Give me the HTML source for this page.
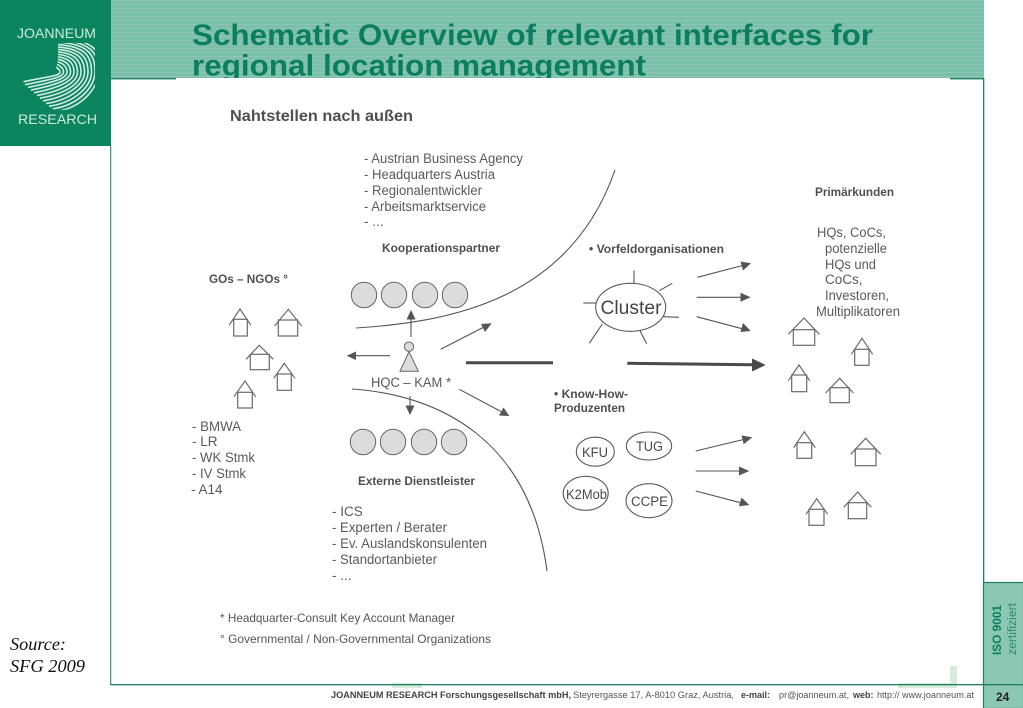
<!DOCTYPE html>
<html>
<head>
<meta charset="utf-8">
<style>
html,body{margin:0;padding:0;width:1023px;height:708px;overflow:hidden;background:#fff}
svg{display:block}
text{font-family:"Liberation Sans",sans-serif}
.t{font-size:13.5px;fill:#5a5a5a}
.b{font-size:11.5px;font-weight:bold;fill:#4f4f4f}
.h{fill:none;stroke:#6a6a6a;stroke-width:1.2}
.l{fill:none;stroke:#555;stroke-width:1.1}
.a{fill:#555}
.c{fill:#dcdcdc;stroke:#666;stroke-width:1}
.e{fill:#fff;stroke:#5a5a5a;stroke-width:1.1}
</style>
</head>
<body>
<svg width="1023" height="708" viewBox="0 0 1023 708" xmlns="http://www.w3.org/2000/svg">
<defs>
<pattern id="st" width="4" height="4" patternUnits="userSpaceOnUse">
<rect width="4" height="4" fill="#7dc0aa"/><rect width="4" height="1" fill="#8ac6b3"/>
</pattern>
<filter id="bl" x="-2%" y="-2%" width="104%" height="104%"><feGaussianBlur stdDeviation="0.35"/></filter>
<clipPath id="jc"><path d="M58 43H95V85C95 100 78 110 62 110C42 110 28 95 21 76L52 72C57 70 58 62 58 55Z"/></clipPath>
</defs>

<rect x="111" y="0" width="873" height="78" fill="url(#st)"/>
<text x="192" y="45" font-size="30" font-weight="bold" fill="#0b7f5c" textLength="681" lengthAdjust="spacingAndGlyphs">Schematic Overview of relevant interfaces for</text>
<text x="192" y="75.5" font-size="30" font-weight="bold" fill="#0b7f5c" textLength="454" lengthAdjust="spacingAndGlyphs">regional location management</text>
<rect x="176" y="78" width="774" height="12" fill="#fff"/>
<rect x="111" y="78" width="65" height="1.4" fill="#1f7d62"/>
<rect x="950" y="78" width="34" height="1.4" fill="#1f7d62"/>

<rect x="983" y="78" width="1.3" height="606" fill="#1f7d62"/>
<rect x="110" y="146" width="1.3" height="539" fill="#4f9b84"/>

<rect x="950" y="666" width="7" height="21" fill="#d4ecd9"/>
<rect x="898" y="683" width="59" height="5" fill="#d4ecd9"/>
<rect x="392" y="683" width="30" height="5" fill="#d4ecd9"/>
<rect x="110" y="684" width="874" height="1.3" fill="#1f7d62"/>

<!-- logo -->
<rect x="0" y="0" width="111" height="146" fill="#0b8560"/>
<text x="17" y="38" font-size="14" fill="#cfe8de" textLength="79" lengthAdjust="spacingAndGlyphs">JOANNEUM</text>
<text x="18" y="124" font-size="14" fill="#cfe8de" textLength="79" lengthAdjust="spacingAndGlyphs">RESEARCH</text>
<g fill="none" stroke="#d4ebe2" stroke-width="1.6" clip-path="url(#jc)">
<path d="M54 66C56 67 60 69 60 72C60 76 50 76 22 82"/>
<path d="M54 63.6C59.5 64.6 63.5 68 63.5 72C63.5 77 53.5 79 25 84.7"/>
<path d="M54 61.2C63 62.2 67 66.6 67 72C67 78 57 81.5 28 87.4"/>
<path d="M54 58.8C66.5 59.8 70.5 65.4 70.5 72C70.5 79 60.5 84 31 90.1"/>
<path d="M54 56.4C70 57.4 74 64 74 72C74 80 63 87 34 92.8"/>
<path d="M54 54C73.5 55 77.5 63 77.5 72C77.5 81 66 90 37 95.5"/>
<path d="M54 51.6C77 52.6 81 62 81 72C81 82 69 93 40 98.2"/>
<path d="M54 49.2C80.5 50.2 84.5 60.6 84.5 72C84.5 83 71 96 43 100.9"/>
<path d="M54 46.8C84 47.8 88 59.4 88 72C88 84 74 99 46 103.6"/>
<path d="M54 44.4C87.5 45.4 91.5 58 91.5 72C91.5 85 77 102 49 106.3"/>
<path d="M54 42C91 43 95 57 95 72C95 86 80 105 52 109"/>
<path d="M54 39.6C94.5 41 98.5 56 98.5 72C98.5 87 83 108 55 111.7"/>
<path d="M54 37.2C98 39 102 55 102 72"/>
</g>

<!-- iso box -->
<rect x="983.5" y="582.5" width="40" height="126" fill="#8cc7b3" stroke="#1f7d62" stroke-width="1.2"/>
<rect x="983" y="684" width="40" height="1.3" fill="#1f7d62"/>
<text transform="translate(1001,655) rotate(-90)" font-size="11.5" font-weight="bold" fill="#0b7f5c" textLength="50" lengthAdjust="spacingAndGlyphs">ISO 9001</text>
<text transform="translate(1016,655) rotate(-90)" font-size="11.5" fill="#2f8a6c" textLength="52" lengthAdjust="spacingAndGlyphs">zertifiziert</text>
<text x="996" y="701" font-size="12" font-weight="bold" fill="#222">24</text>

<!-- source -->
<text x="10" y="650" font-size="18" font-style="italic" style="font-family:'Liberation Serif',serif" fill="#111" textLength="56" lengthAdjust="spacingAndGlyphs">Source:</text>
<text x="10" y="672" font-size="18" font-style="italic" style="font-family:'Liberation Serif',serif" fill="#111" textLength="75" lengthAdjust="spacingAndGlyphs">SFG 2009</text>

<!-- footer -->
<g font-size="9" fill="#555">
<text x="331" y="698" font-weight="bold" fill="#444" textLength="240" lengthAdjust="spacingAndGlyphs">JOANNEUM RESEARCH Forschungsgesellschaft mbH,</text>
<text x="573" y="698" textLength="161" lengthAdjust="spacingAndGlyphs">Steyrergasse 17, A-8010 Graz, Austria,</text>
<text x="741" y="698" font-weight="bold" fill="#444">e-mail:</text>
<text x="779" y="698" textLength="70" lengthAdjust="spacingAndGlyphs">pr@joanneum.at,</text>
<text x="853" y="698" font-weight="bold" fill="#444">web:</text>
<text x="877" y="698">http://</text>
<text x="902" y="698" textLength="72" lengthAdjust="spacingAndGlyphs">www.joanneum.at</text>
</g>

<g filter="url(#bl)">
<text x="230" y="121" font-size="15.5" font-weight="bold" fill="#505050" textLength="183" lengthAdjust="spacingAndGlyphs">Nahtstellen nach außen</text>

<text class="t" x="364" y="163" textLength="159" lengthAdjust="spacingAndGlyphs">- Austrian Business Agency</text>
<text class="t" x="364" y="179" textLength="131" lengthAdjust="spacingAndGlyphs">- Headquarters Austria</text>
<text class="t" x="364" y="195" textLength="118" lengthAdjust="spacingAndGlyphs">- Regionalentwickler</text>
<text class="t" x="364" y="211" textLength="122" lengthAdjust="spacingAndGlyphs">- Arbeitsmarktservice</text>
<text class="t" x="364" y="226">- ...</text>

<text class="b" x="382" y="252" textLength="118" lengthAdjust="spacingAndGlyphs">Kooperationspartner</text>
<text class="b" x="589" y="253" textLength="135" lengthAdjust="spacingAndGlyphs">• Vorfeldorganisationen</text>
<text class="b" x="815" y="196" textLength="79" lengthAdjust="spacingAndGlyphs">Primärkunden</text>

<text class="t" x="817" y="237" textLength="69" lengthAdjust="spacingAndGlyphs">HQs, CoCs,</text>
<text class="t" x="825" y="253" textLength="62" lengthAdjust="spacingAndGlyphs">potenzielle</text>
<text class="t" x="825" y="269" textLength="51" lengthAdjust="spacingAndGlyphs">HQs und</text>
<text class="t" x="825" y="284">CoCs,</text>
<text class="t" x="825" y="300" textLength="64" lengthAdjust="spacingAndGlyphs">Investoren,</text>
<text class="t" x="816" y="316" textLength="84" lengthAdjust="spacingAndGlyphs">Multiplikatoren</text>

<text class="b" x="209" y="283" textLength="79" lengthAdjust="spacingAndGlyphs">GOs – NGOs °</text>

<text class="t" x="192" y="431" textLength="49" lengthAdjust="spacingAndGlyphs">- BMWA</text>
<text class="t" x="192" y="446">- LR</text>
<text class="t" x="192" y="462" textLength="63" lengthAdjust="spacingAndGlyphs">- WK Stmk</text>
<text class="t" x="192" y="478" textLength="54" lengthAdjust="spacingAndGlyphs">- IV Stmk</text>
<text class="t" x="191" y="494">- A14</text>

<text class="t" x="371" y="387" textLength="80" lengthAdjust="spacingAndGlyphs">HQC – KAM *</text>
<text class="b" x="358" y="485" textLength="117" lengthAdjust="spacingAndGlyphs">Externe Dienstleister</text>

<text class="t" x="332" y="516">- ICS</text>
<text class="t" x="332" y="532" textLength="115" lengthAdjust="spacingAndGlyphs">- Experten / Berater</text>
<text class="t" x="332" y="548" textLength="155" lengthAdjust="spacingAndGlyphs">- Ev. Auslandskonsulenten</text>
<text class="t" x="332" y="564" textLength="105" lengthAdjust="spacingAndGlyphs">- Standortanbieter</text>
<text class="t" x="332" y="580">- ...</text>

<text class="b" x="554" y="398" textLength="74" lengthAdjust="spacingAndGlyphs">• Know-How-</text>
<text class="b" x="554" y="412" textLength="71" lengthAdjust="spacingAndGlyphs">Produzenten</text>

<text x="220" y="622" font-size="12" fill="#555" textLength="235" lengthAdjust="spacingAndGlyphs">* Headquarter-Consult Key Account Manager</text>
<text x="220" y="643" font-size="12" fill="#555" textLength="271" lengthAdjust="spacingAndGlyphs">° Governmental / Non-Governmental Organizations</text>

<!-- curves -->
<path class="l" d="M356 328C450 322 570 300 615 170"/>
<path class="l" d="M352 389C440 395 530 440 547 571"/>

<!-- circles -->
<circle class="c" cx="364" cy="295" r="12.7"/>
<circle class="c" cx="394" cy="295" r="12.7"/>
<circle class="c" cx="425" cy="295" r="12.7"/>
<circle class="c" cx="455" cy="295" r="12.7"/>
<circle class="c" cx="363" cy="442" r="12.7"/>
<circle class="c" cx="393" cy="442" r="12.7"/>
<circle class="c" cx="424" cy="442" r="12.7"/>
<circle class="c" cx="454" cy="442" r="12.7"/>

<!-- person -->
<circle class="c" cx="409" cy="346.7" r="4.7"/>
<polygon class="c" points="409,351.7 400,371.3 418.3,371.3"/>

<!-- person arrows -->
<path class="l" d="M411 337V318"/><polygon class="a" points="411,310 406.5,319.5 415.5,319.5"/>
<path class="l" d="M390 355.7H355" stroke-width="1.4"/><polygon class="a" points="346.7,355.7 356,351.5 356,360"/>
<path class="l" d="M440.7 349.3L484 327"/><polygon class="a" points="491.7,323.3 481,324 485,332"/>
<path class="l" d="M459.3 389.3L501 411.5"/><polygon class="a" points="509.3,416 499,415.5 503.5,407.5"/>
<path class="l" d="M410 396V407"/><polygon class="a" points="410,415 405.5,405.5 414.5,405.5"/>
<path d="M466 362.7H553" fill="none" stroke="#4a4a4a" stroke-width="3"/>
<path d="M627.3 363.3L753 364.8" fill="none" stroke="#4a4a4a" stroke-width="3"/>
<polygon points="765.7,365 752,358.5 752,371.5" fill="#4a4a4a"/>

<!-- cluster -->
<ellipse class="e" cx="630.7" cy="307.3" rx="35" ry="24"/>
<text x="600.5" y="314" font-size="19" fill="#444" textLength="61" lengthAdjust="spacingAndGlyphs">Cluster</text>
<g class="l">
<path d="M634 270.7V283.3"/>
<path d="M659.3 290.7L672.3 283.3"/>
<path d="M583.3 303H596.7"/>
<path d="M663.3 316.7L679 317.3"/>
<path d="M602.3 324L589.3 343.3"/>
<path d="M640 330.7L646.7 343.7"/>
</g>

<!-- right arrows -->
<path class="l" d="M697.3 277.3L742 265.6"/><polygon class="a" points="751,263.3 740.5,261.5 743,270.5"/>
<path class="l" d="M696.7 297.3H742"/><polygon class="a" points="750.7,297.3 740.5,292.8 740.5,301.8"/>
<path class="l" d="M696.7 316.7L742 328.7"/><polygon class="a" points="750.7,331 743,323 740.5,332"/>
<path class="l" d="M695.7 451L743 439.6"/><polygon class="a" points="752.3,437.3 741.5,435.5 743.7,444.3"/>
<path class="l" d="M695.7 471H741"/><polygon class="a" points="749.3,471 739,466.5 739,475.5"/>
<path class="l" d="M695.7 491L741 502.8"/><polygon class="a" points="749.3,505 741.5,497.5 739,506.2"/>

<!-- know-how ellipses -->
<ellipse class="e" cx="595.3" cy="451.7" rx="19" ry="14.5"/>
<text x="582" y="457" font-size="13.5" fill="#4a4a4a" textLength="26" lengthAdjust="spacingAndGlyphs">KFU</text>
<ellipse class="e" cx="649" cy="446" rx="22.7" ry="14"/>
<text x="636" y="451" font-size="13.5" fill="#4a4a4a" textLength="27" lengthAdjust="spacingAndGlyphs">TUG</text>
<ellipse class="e" cx="585.7" cy="493.3" rx="22.5" ry="17"/>
<text x="566" y="499" font-size="13.5" fill="#4a4a4a" textLength="41" lengthAdjust="spacingAndGlyphs">K2Mob</text>
<ellipse class="e" cx="649" cy="500.7" rx="23" ry="17"/>
<text x="631" y="506" font-size="13.5" fill="#4a4a4a" textLength="37" lengthAdjust="spacingAndGlyphs">CCPE</text>

<!-- houses left -->
<g class="h">
<polyline points="229.3,325 240,309 250.7,325"/><rect x="233.7" y="319.3" width="13.6" height="16.7"/>
<polyline points="274.7,326 288.3,309.3 301.7,326"/><rect x="278.3" y="320" width="19.4" height="16"/>
<polyline points="246,359.3 259.3,345.3 273.3,359.3"/><rect x="250.3" y="354.3" width="19" height="15.4"/>
<polyline points="273.7,378.3 284.3,363.3 295,378.3"/><rect x="277.3" y="374" width="14" height="16.3"/>
<polyline points="234,396.7 245,381 255.7,396.7"/><rect x="237.7" y="392.3" width="14.6" height="15.7"/>
</g>
<!-- houses right -->
<g class="h">
<polyline points="788.3,334.3 804,318 819.3,334.3"/><rect x="793.3" y="329.7" width="21.4" height="15.6"/>
<polyline points="851.3,354.3 862,338.3 872.7,354.3"/><rect x="854.7" y="349.3" width="14.3" height="16"/>
<polyline points="788.3,380.7 799,365 809.7,380.7"/><rect x="791.7" y="375" width="15" height="16.7"/>
<polyline points="825.7,393 839.7,378.3 853.3,393"/><rect x="830" y="387.7" width="19.3" height="15"/>
<polyline points="793.7,447.7 804.3,431.7 815.3,447.7"/><rect x="797" y="442.7" width="14.7" height="15.6"/>
<polyline points="850.7,454.3 865.7,438.3 880.7,454.3"/><rect x="855.3" y="449" width="20.7" height="16.7"/>
<polyline points="806,514.3 816.7,498.7 827.7,514.3"/><rect x="809" y="509.3" width="15" height="16"/>
<polyline points="843.7,507.3 857.7,492 871.3,507.3"/><rect x="848.3" y="502.7" width="18.4" height="16"/>
</g>
</g>
</svg>
</body>
</html>
